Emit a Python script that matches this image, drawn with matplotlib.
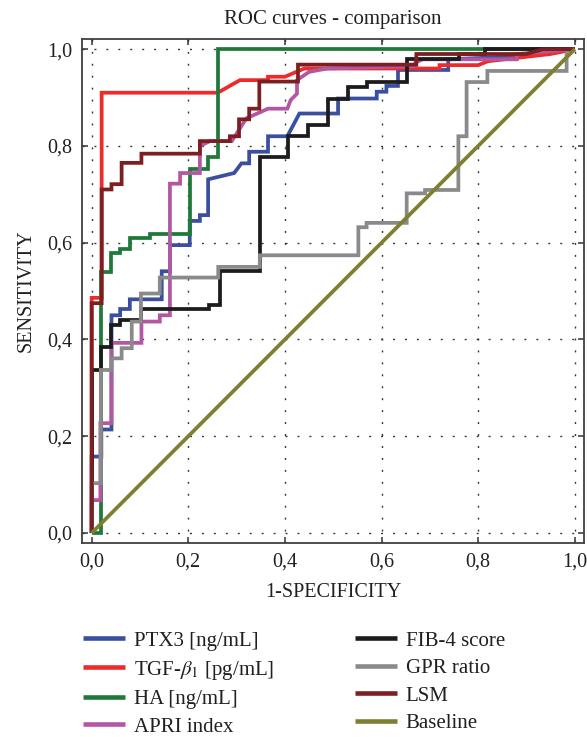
import matplotlib
matplotlib.use("Agg")
import matplotlib.pyplot as plt

plt.rcParams['font.family'] = ['Liberation Serif', 'DejaVu Serif']
plt.rcParams['mathtext.fontset'] = 'stix'
TXT = '#231f20'

# ---------------- data ----------------
ptx3_fpr = [0, 0, 0.02, 0.02, 0.041, 0.041, 0.059, 0.059, 0.079, 0.079, 0.145, 0.145, 0.162, 0.162,
            0.203, 0.203, 0.224, 0.224, 0.241, 0.241, 0.295, 0.31, 0.326, 0.326, 0.365, 0.365, 0.405,
            0.43, 0.510, 0.510, 0.590, 0.590, 0.610, 0.610, 0.634, 0.634, 0.738, 0.738, 0.88, 1]
ptx3_tpr = [0, 0.158, 0.158, 0.214, 0.214, 0.45, 0.45, 0.463, 0.463, 0.483, 0.483, 0.541, 0.541, 0.595,
            0.595, 0.645, 0.645, 0.657, 0.657, 0.731, 0.744, 0.764, 0.764, 0.788, 0.788, 0.82, 0.82,
            0.867, 0.867, 0.898, 0.898, 0.912, 0.912, 0.924, 0.924, 0.957, 0.957, 0.979, 0.985, 1]

tgf_fpr = [0, 0, 0.0207, 0.0207, 0.261, 0.307, 0.365, 0.365, 0.40, 0.44, 0.72, 0.72, 0.80, 0.82, 0.95, 1]
tgf_tpr = [0, 0.486, 0.486, 0.91, 0.91, 0.936, 0.936, 0.943, 0.943, 0.96, 0.96, 0.967, 0.967, 0.975, 0.99, 1]

ha_fpr = [0, 0.02, 0.02, 0.041, 0.041, 0.059, 0.059, 0.079, 0.079, 0.121, 0.121, 0.203, 0.203,
          0.241, 0.241, 0.262, 0.262, 1]
ha_tpr = [0, 0, 0.54, 0.54, 0.578, 0.578, 0.588, 0.588, 0.609, 0.609, 0.619, 0.619, 0.753,
          0.753, 0.777, 0.777, 1.0, 1]

apri_fpr = [0, 0, 0.018, 0.018, 0.041, 0.041, 0.103, 0.103, 0.141, 0.141, 0.162, 0.162, 0.183, 0.183,
            0.224, 0.224, 0.245, 0.29, 0.32, 0.365, 0.405, 0.412, 0.425, 0.425, 0.45, 0.487, 0.67,
            0.67, 0.685, 0.88, 0.88, 1]
apri_tpr = [0, 0.068, 0.068, 0.227, 0.227, 0.393, 0.393, 0.437, 0.437, 0.45, 0.45, 0.722, 0.722, 0.744,
            0.744, 0.80, 0.81, 0.81, 0.857, 0.877, 0.877, 0.895, 0.908, 0.936, 0.953, 0.96, 0.965,
            0.972, 0.979, 0.979, 0.99, 1]

fib4_fpr = [0, 0, 0.02, 0.02, 0.041, 0.041, 0.059, 0.059, 0.103, 0.103, 0.243, 0.243, 0.265, 0.265,
            0.348, 0.348, 0.407, 0.407, 0.448, 0.448, 0.49, 0.49, 0.531, 0.531, 0.569, 0.569, 0.652,
            0.652, 0.76, 0.76, 0.815, 0.815, 1]
fib4_tpr = [0, 0.337, 0.337, 0.385, 0.385, 0.43, 0.43, 0.44, 0.44, 0.462, 0.462, 0.471, 0.471, 0.542,
            0.542, 0.777, 0.777, 0.82, 0.82, 0.843, 0.843, 0.898, 0.898, 0.922, 0.922, 0.932, 0.932,
            0.979, 0.979, 0.99, 0.99, 1.0, 1]

gpr_fpr = [0, 0, 0.019, 0.019, 0.041, 0.041, 0.062, 0.062, 0.083, 0.083, 0.102, 0.102, 0.141, 0.141,
           0.262, 0.262, 0.348, 0.348, 0.552, 0.552, 0.569, 0.569, 0.652, 0.652, 0.69, 0.69, 0.759,
           0.759, 0.776, 0.776, 0.819, 0.819, 0.983, 0.983, 1]
gpr_tpr = [0, 0.103, 0.103, 0.337, 0.337, 0.361, 0.361, 0.382, 0.382, 0.437, 0.437, 0.495, 0.495, 0.528,
           0.528, 0.55, 0.55, 0.574, 0.574, 0.632, 0.632, 0.641, 0.641, 0.702, 0.702, 0.709, 0.709,
           0.82, 0.82, 0.932, 0.932, 0.955, 0.955, 0.998, 1]

lsm_fpr = [0, 0, 0.0207, 0.0207, 0.041, 0.041, 0.062, 0.062, 0.103, 0.103, 0.224, 0.224, 0.286, 0.286,
           0.305, 0.305, 0.326, 0.326, 0.347, 0.347, 0.427, 0.427, 0.672, 0.672, 0.90, 0.934, 1]
lsm_tpr = [0, 0.475, 0.475, 0.71, 0.71, 0.721, 0.721, 0.765, 0.765, 0.784, 0.784, 0.81, 0.81, 0.82,
           0.82, 0.855, 0.855, 0.877, 0.877, 0.933, 0.933, 0.968, 0.968, 0.99, 0.99, 1.0, 1]

base_fpr = [0, 1]
base_tpr = [0, 1]

labels = ['PTX3 [ng/mL]', 'TGF-$\\beta_1$ [pg/mL]', 'HA [ng/mL]', 'APRI index',
          'FIB-4 score', 'GPR ratio', 'LSM', 'Baseline']
colors = ['#3b4fa0', '#ee2b2b', '#1f7a3a', '#b457a3', '#1c1c1c', '#8a8a8a', '#7d1f21', '#7f7f31']
curves = [(ptx3_fpr, ptx3_tpr), (tgf_fpr, tgf_tpr), (ha_fpr, ha_tpr), (apri_fpr, apri_tpr),
          (fib4_fpr, fib4_tpr), (gpr_fpr, gpr_tpr), (lsm_fpr, lsm_tpr), (base_fpr, base_tpr)]

tick_vals = [0.0, 0.2, 0.4, 0.6, 0.8, 1.0]
tick_labels = ['0,0', '0,2', '0,4', '0,6', '0,8', '1,0']

# ---------------- figure ----------------
fig = plt.figure(figsize=(5.87, 7.37), dpi=100)
ax = fig.add_axes([82 / 587, 1 - 542.7 / 737, (584 - 82) / 587, (542.7 - 39) / 737])

handles = []
for (x, y), c, lab in zip(curves, colors, labels):
    h, = ax.plot(x, y, color=c, lw=2.7, solid_joinstyle='miter', solid_capstyle='butt', label=lab)
    handles.append(h)

ax.set_xlim(-0.02, 1.019)
ax.set_ylim(-0.02, 1.021)
ax.set_xticks(tick_vals)
ax.set_xticklabels(tick_labels)
ax.set_yticks(tick_vals)
ax.set_yticklabels(tick_labels)
ax.tick_params(direction='in', top=True, right=True, length=4.5, width=1.1,
               colors='#333333', labelcolor=TXT, labelsize=14.5, pad=7)
ax.grid(True, color='#333333', lw=1.0, linestyle=(0, (1.4, 7.2)))
for s in ax.spines.values():
    s.set_color('#404040')
    s.set_linewidth(1.3)

ax.set_title('ROC curves - comparison', fontsize=15, color=TXT, pad=11)
ax.set_xlabel('1-SPECIFICITY', fontsize=14.5, color=TXT, labelpad=8)
ax.set_ylabel('SENSITIVITY', fontsize=14.5, color=TXT, labelpad=8)

leg_kw = dict(frameon=False, fontsize=15, handlelength=2.0, handletextpad=0.43,
              labelspacing=0.38, borderpad=0, borderaxespad=0, loc='upper left', labelcolor=TXT)
leg1 = fig.legend(handles=handles[:4], bbox_to_anchor=(83 / 587, 1 - 631 / 737), **leg_kw)
leg2 = fig.legend(handles=handles[4:], bbox_to_anchor=(355 / 587, 1 - 631 / 737), **leg_kw)
for leg in (leg1, leg2):
    for ln in leg.get_lines():
        ln.set_linewidth(3.3)

fig.savefig('out.png', dpi=100)
